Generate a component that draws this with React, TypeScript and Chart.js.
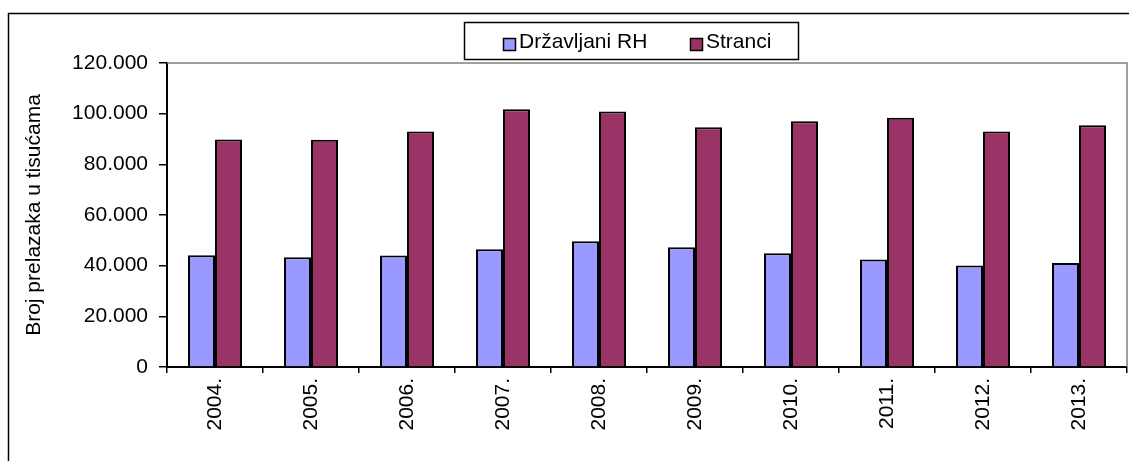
import React, { useEffect, useRef } from "react";
import { Chart, registerables } from "chart.js";

Chart.register(...registerables);

const years = ["2004.", "2005.", "2006.", "2007.", "2008.", "2009.", "2010.", "2011.", "2012.", "2013."];
const drzavljani = [44100, 43300, 44000, 46500, 49600, 47300, 44900, 42400, 40100, 41100];
const stranci = [89800, 89700, 93000, 101700, 100900, 94600, 97000, 98400, 93000, 95400];
const seriesNames = ["Državljani RH", "Stranci"];
const seriesColors = ["#9999FF", "#993366"];
const yAxisTitle = "Broj prelazaka u tisućama";
const yMax = 120000;
const yStep = 20000;

const FONT = "'Liberation Sans', Arial, sans-serif";

function fmt(v: number): string {
  const s = Math.round(v).toString();
  return s.replace(/\B(?=(\d{3})+(?!\d))/g, ".");
}

const framePlugin = {
  id: "frame",
  beforeDraw(chart: any) {
    const ctx = chart.ctx;
    ctx.save();
    ctx.fillStyle = "#fff";
    ctx.fillRect(0, 0, chart.width, chart.height);
    ctx.strokeStyle = "#000";
    ctx.lineWidth = 1.5;
    ctx.beginPath();
    ctx.moveTo(8.5, chart.height + 5);
    ctx.lineTo(8.5, 13.5);
    ctx.lineTo(chart.width + 5, 13.5);
    ctx.stroke();
    ctx.restore();
  },
  afterDatasetsDraw(chart: any) {
    const ctx = chart.ctx;
    const a = chart.chartArea;
    ctx.save();
    ctx.strokeStyle = "#808080";
    ctx.lineWidth = 1.5;
    ctx.beginPath();
    ctx.moveTo(a.left, a.top);
    ctx.lineTo(a.right, a.top);
    ctx.lineTo(a.right, a.bottom);
    ctx.stroke();
    ctx.restore();
  },
  afterDraw(chart: any) {
    const ctx = chart.ctx;
    ctx.save();
    const bx = 464.5, by = 22.5, bw = 334, bh = 37;
    ctx.fillStyle = "#fff";
    ctx.fillRect(bx, by, bw, bh);
    ctx.strokeStyle = "#000";
    ctx.lineWidth = 1.5;
    ctx.strokeRect(bx, by, bw, bh);
    ctx.font = `21px ${FONT}`;
    ctx.textBaseline = "middle";
    ctx.textAlign = "left";
    const starts = [503, 690];
    chart.data.datasets.forEach((ds: any, i: number) => {
      const x = starts[i];
      ctx.fillStyle = ds.backgroundColor;
      ctx.fillRect(x + 0.5, 38.5, 12, 12);
      ctx.strokeStyle = "#000";
      ctx.lineWidth = 1.5;
      ctx.strokeRect(x + 0.5, 38.5, 12, 12);
      ctx.fillStyle = "#000";
      ctx.fillText(ds.label, x + 16, 42);
    });
    ctx.restore();
  },
};

export default function App() {
  const ref = useRef<HTMLCanvasElement | null>(null);
  useEffect(() => {
    if (!ref.current) return;
    const chart = new Chart(ref.current, {
      type: "bar",
      data: {
        labels: years,
        datasets: [
          {
            label: seriesNames[0],
            data: drzavljani,
            backgroundColor: seriesColors[0],
            borderColor: "#000",
            borderWidth: 2,
            categoryPercentage: 0.5625,
            barPercentage: 1,
          },
          {
            label: seriesNames[1],
            data: stranci,
            backgroundColor: seriesColors[1],
            borderColor: "#000",
            borderWidth: 2,
            categoryPercentage: 0.5625,
            barPercentage: 1,
          },
        ],
      },
      options: {
        animation: false,
        responsive: false,
        maintainAspectRatio: false,
        layout: { padding: { top: 63, right: 2, left: 0, bottom: 0 } },
        plugins: {
          legend: { display: false },
          tooltip: { enabled: false },
        },
        scales: {
          x: {
            afterFit: (s: any) => {
              s.height = 94;
            },
            grid: {
              display: true,
              drawOnChartArea: false,
              drawTicks: true,
              tickLength: 6,
              color: "#000",
              lineWidth: 1.5,
              offset: true,
            },
            border: { display: true, color: "#000", width: 2 },
            ticks: {
              color: "#000",
              font: { family: FONT, size: 21 },
              minRotation: 90,
              maxRotation: 90,
              padding: 5,
              autoSkip: false,
            },
          },
          y: {
            min: 0,
            max: yMax,
            afterFit: (s: any) => {
              s.width = 167;
            },
            grid: {
              display: true,
              drawOnChartArea: false,
              drawTicks: true,
              tickLength: 8,
              color: "#000",
              lineWidth: 1.5,
            },
            border: { display: true, color: "#000", width: 2 },
            ticks: {
              stepSize: yStep,
              color: "#000",
              font: { family: FONT, size: 21 },
              padding: 11,
              callback: (v: any) => fmt(Number(v)),
            },
            title: {
              display: true,
              text: yAxisTitle,
              color: "#000",
              font: { family: FONT, size: 21 },
              padding: { top: 22, bottom: 0 },
            },
          },
        },
      },
      plugins: [framePlugin],
    });
    return () => chart.destroy();
  }, []);
  return (
    <div style={{ position: "fixed", left: 0, top: 0, width: 1129, height: 461 }}>
      <canvas ref={ref} width={1129} height={461} style={{ width: 1129, height: 461, display: "block" }} />
    </div>
  );
}
